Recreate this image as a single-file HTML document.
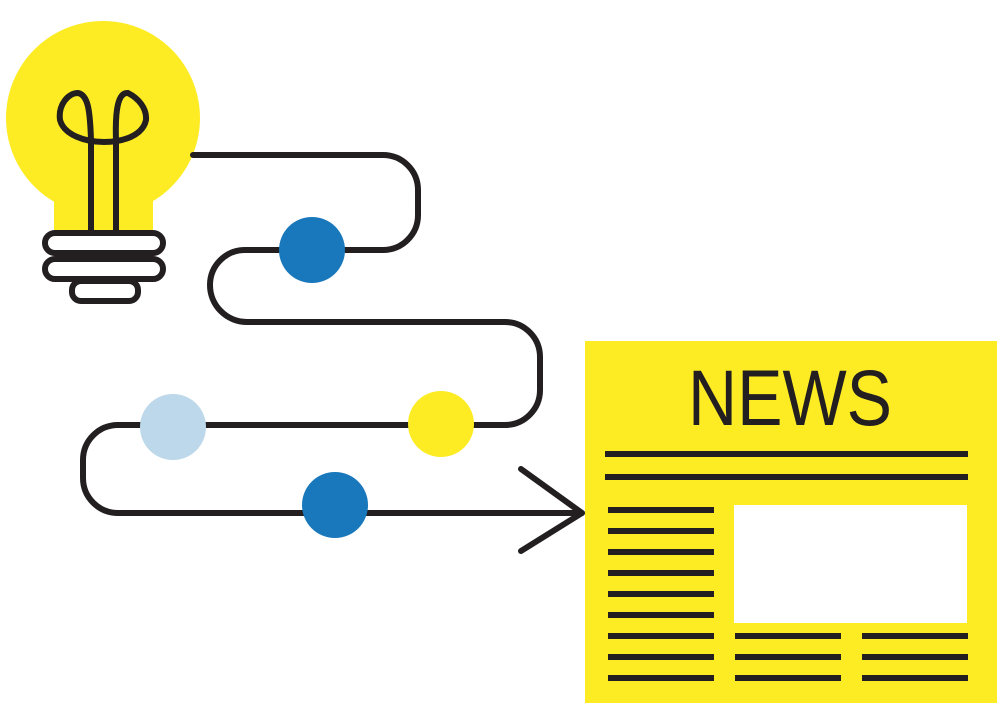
<!DOCTYPE html>
<html><head><style>body{margin:0;background:#fff}svg{display:block}</style></head><body>
<svg width="1000" height="708" viewBox="0 0 1000 708" xmlns="http://www.w3.org/2000/svg">
<rect width="1000" height="708" fill="#fff"/>
<!-- bulb -->
<circle cx="103" cy="118" r="97" fill="#fdec24"/>
<rect x="54" y="170" width="99" height="62" fill="#fdec24"/>
<g fill="none" stroke="#231f20" stroke-width="6" stroke-linejoin="round" stroke-linecap="round">
<path d="M91 232 V140 C90 110 88 95 78 93 C68 93 58 105 60 120 C64 135 85 142 104 142 C124 142 143 135 146 120 C147 108 138 98 128 93 C118 92 115 110 116 140 V232"/>
<rect x="45" y="233" width="118" height="20" rx="10"/>
<rect x="45" y="259" width="118" height="20" rx="10"/>
<rect x="72" y="281" width="66" height="20" rx="9"/>
<!-- path -->
<path d="M193 155 H383 A35 35 0 0 1 418 190 V215 A35 35 0 0 1 383 250 H245 A35 35 0 0 0 210 285 A37 37 0 0 0 247 322 H505 A35 35 0 0 1 540 357 V390 A35 35 0 0 1 505 425 H118 A35 35 0 0 0 83 460 V478 A35 35 0 0 0 118 513 H582"/>
<path d="M521 469 L582 513 L521 551"/>
</g>
<circle cx="312" cy="250" r="33" fill="#1878bb"/>
<circle cx="173" cy="427" r="33" fill="#bcd8ea"/>
<circle cx="441" cy="424" r="33" fill="#fdec24"/>
<circle cx="335" cy="505" r="33" fill="#1878bb"/>
<!-- news -->
<rect x="585" y="341" width="412" height="362" fill="#fdec24"/>
<text x="688" y="425" font-family="Liberation Sans, sans-serif" font-size="79" fill="#231f20" textLength="204" lengthAdjust="spacingAndGlyphs">NEWS</text>
<g fill="#231f20">
<rect x="605" y="451" width="363" height="6"/>
<rect x="605" y="474" width="363" height="6"/>
<rect x="608" y="507" width="106" height="6"/>
<rect x="608" y="528" width="106" height="6"/>
<rect x="608" y="549" width="106" height="6"/>
<rect x="608" y="570" width="106" height="6"/>
<rect x="608" y="591" width="106" height="6"/>
<rect x="608" y="612" width="106" height="6"/>
<rect x="608" y="633" width="106" height="6"/>
<rect x="608" y="654" width="106" height="6"/>
<rect x="608" y="675" width="106" height="6"/>
<rect x="735" y="633" width="106" height="6"/>
<rect x="735" y="654" width="106" height="6"/>
<rect x="735" y="675" width="106" height="6"/>
<rect x="862" y="633" width="106" height="6"/>
<rect x="862" y="654" width="106" height="6"/>
<rect x="862" y="675" width="106" height="6"/>
</g>
<rect x="734" y="505" width="233" height="118" fill="#fff"/>
</svg>
</body></html>
